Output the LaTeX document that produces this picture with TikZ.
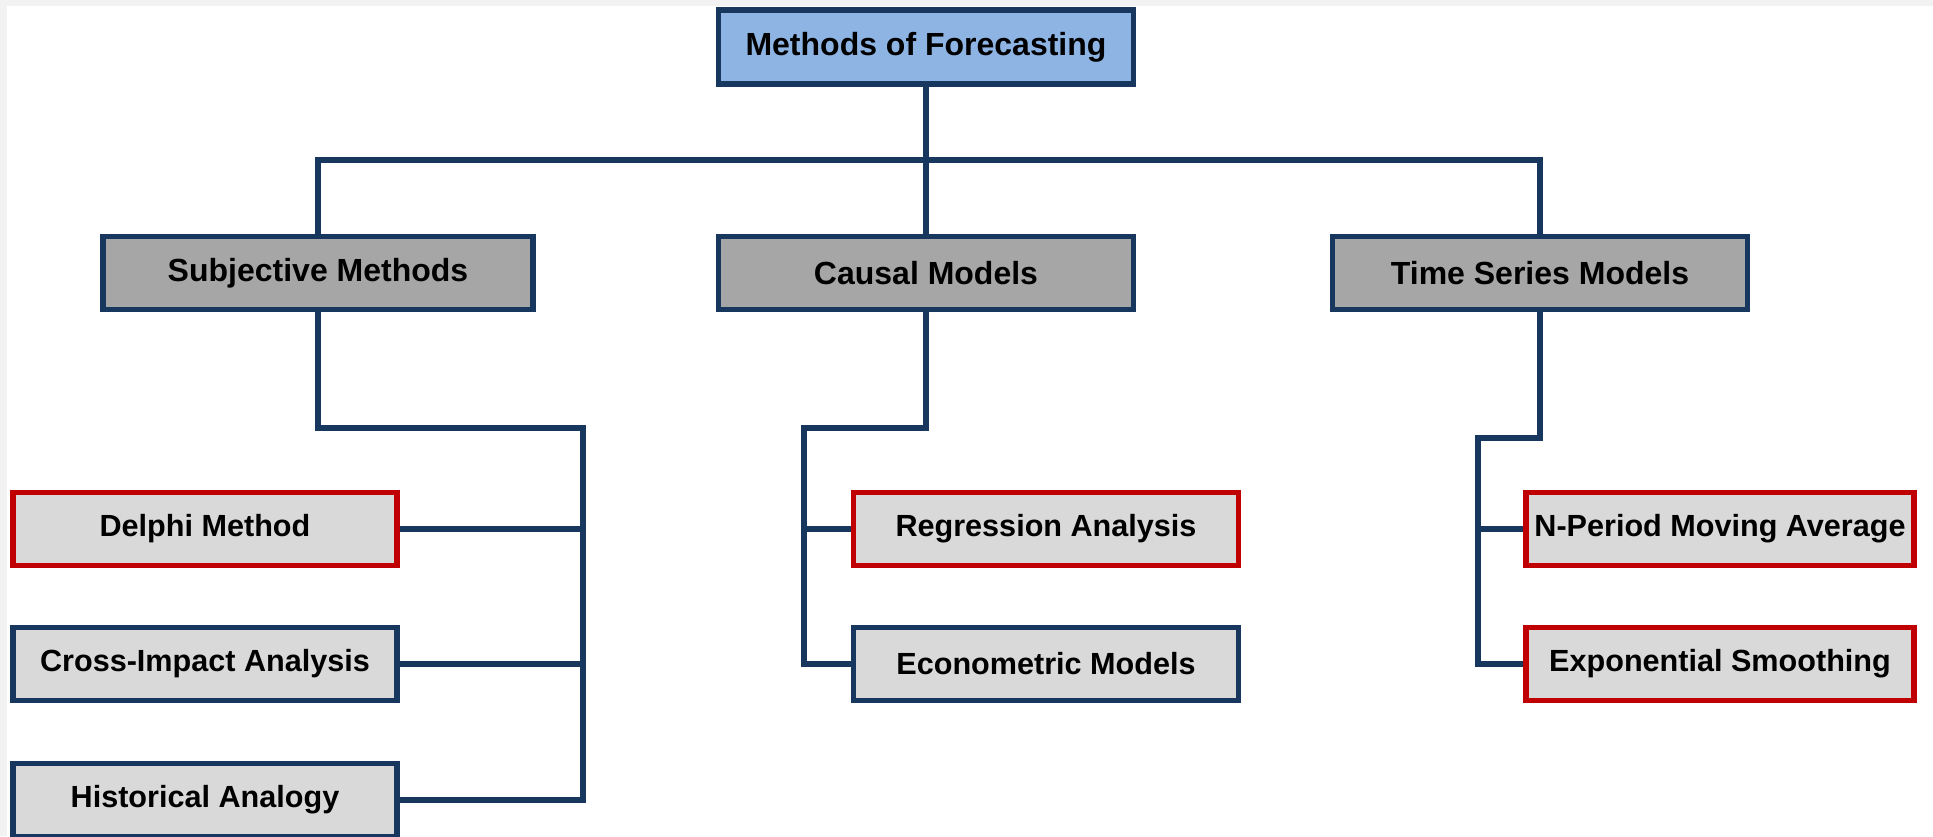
\documentclass[tikz,border=0pt]{standalone}
\usepackage{fontspec}
\setmainfont{Liberation Sans}
\usepackage{tikz}
\usetikzlibrary{calc}

\definecolor{navy}{HTML}{17375E}
\definecolor{topblue}{HTML}{8EB4E3}
\definecolor{midgray}{HTML}{A6A6A6}
\definecolor{lightgray}{HTML}{D9D9D9}
\definecolor{darkred}{HTML}{C00000}
\definecolor{edgegray}{HTML}{F2F2F2}

\tikzset{
  box/.style={draw=navy, line width=1.6pt, inner sep=0pt, font=\bfseries\fontsize{9.1}{11}\selectfont},
  headbox/.style={box, fill=topblue, minimum width=4.15cm, minimum height=0.74cm},
  groupbox/.style={box, fill=midgray, minimum width=4.15cm, minimum height=0.73cm},
  leafbox/.style={box, fill=lightgray, minimum width=3.85cm, minimum height=0.73cm, font=\bfseries\fontsize{8.7}{11}\selectfont},
  redbox/.style={leafbox, draw=darkred},
  link/.style={draw=navy, line width=1.7pt}
}

\begin{document}
\begin{tikzpicture}[x=0.01cm,y=-0.01cm]
\useasboundingbox (0,0) rectangle (1933,836);
\fill [edgegray] (0,0) rectangle (1933,836);
\fill [white] (7,6) rectangle (1933,836);

% head and groups
\node [headbox] (forecast) at (926,47) {Methods of Forecasting};
\node [groupbox, minimum width=4.3cm] (subj) at (318,273) {Subjective Methods};
\node [groupbox] (causal) at (926,273) {Causal Models};
\node [groupbox] (tseries) at (1540,273) {Time Series Models};

% leaves
\node [redbox, minimum width=3.84cm] (delphi) at (205,529) {Delphi Method};
\node [leafbox, minimum width=3.84cm] (cross) at (205,664) {Cross-Impact Analysis};
\node [leafbox, minimum width=3.84cm] (hist) at (205,800) {Historical Analogy};
\node [redbox] (regr) at (1046,529) {Regression Analysis};
\node [leafbox] (econ) at (1046,664) {Econometric Models};
\node [redbox, minimum width=3.88cm] (nper) at (1720,529) {N-Period Moving Average};
\node [redbox, minimum width=3.88cm] (expo) at (1720,664) {Exponential Smoothing};

\coordinate (bar) at (926,160);
\coordinate (sjn) at (583,428);
\coordinate (csn) at (804,428);
\coordinate (tsn) at (1478,438);

\draw [link] (forecast.south) -- (causal.north);
\draw [link] (subj.north) |- (bar) -| (tseries.north);

\draw [link] (subj.south) |- (sjn) -- (sjn |- hist.east) -- (hist.east);
\draw [link] (delphi.east) -- (delphi.east -| sjn);
\draw [link] (cross.east) -- (cross.east -| sjn);

\draw [link] (causal.south) |- (csn) -- (csn |- econ.west) -- (econ.west);
\draw [link] (regr.west) -- (regr.west -| csn);

\draw [link] (tseries.south) |- (tsn) -- (tsn |- expo.west) -- (expo.west);
\draw [link] (nper.west) -- (nper.west -| tsn);
\end{tikzpicture}
\end{document}
